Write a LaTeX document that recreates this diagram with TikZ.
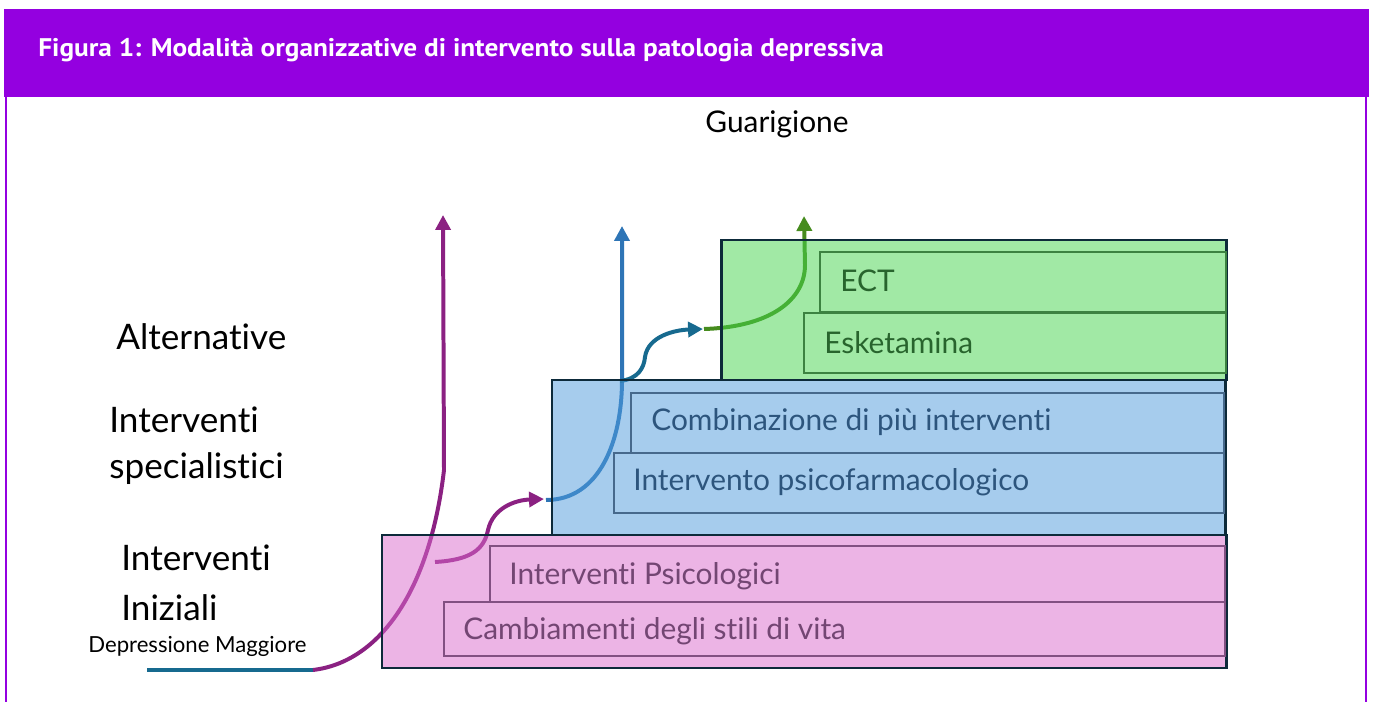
\documentclass[tikz,border=0pt]{standalone}
\usepackage{fontspec}
\setmainfont[Ligatures={NoCommon}]{Lato}
\newfontfamily\titlefont{PT Sans}
\usetikzlibrary{arrows.meta}
\definecolor{hdr}{RGB}{148,0,224}
\definecolor{boxline}{RGB}{13,42,58}
\definecolor{pinkF}{RGB}{219,107,205}
\definecolor{blueF}{RGB}{79,155,221}
\definecolor{greenF}{RGB}{69,213,77}
\definecolor{pinkL}{RGB}{130,80,130}
\definecolor{pinkT}{RGB}{115,70,115}
\definecolor{blueL}{RGB}{70,105,140}
\definecolor{blueT}{RGB}{45,85,125}
\definecolor{greenL}{RGB}{60,130,65}
\definecolor{greenT}{RGB}{40,100,45}
\definecolor{purpA}{RGB}{139,33,130}
\definecolor{tealA}{RGB}{23,106,143}
\definecolor{blueA}{RGB}{46,117,182}
\definecolor{greenA}{RGB}{70,140,30}
\tikzset{
  outerbox/.style={draw=boxline, line width=1.7pt, fill opacity=0.5},
  innerbox/.style={line width=0.6pt},
  boxtext/.style={anchor=west, inner sep=0pt, font=\fontsize{17}{20}\selectfont},
  lefttext/.style={anchor=west, inner sep=0pt, font=\fontsize{20}{24}\selectfont},
  flow/.style={line width=2.27pt},
  tip/.style={-{Triangle[length=8.5pt,width=8.5pt]}}
}
\begin{document}
\begin{tikzpicture}[x=0.02cm,y=-0.02cm]
\useasboundingbox (0,0) rectangle (1373,702);
\fill[white] (0,0) rectangle (1373,702);
% header and frame
\fill[hdr] (4,9) rectangle (1369,97);
\draw[hdr, line width=1.2pt] (6,97) -- (6,702);
\draw[hdr, line width=1.2pt] (1366,97) -- (1366,702);
\node[anchor=west, inner sep=0pt, text=white, font=\titlefont\bfseries\fontsize{14.5}{17}\selectfont] (title) at (38,50) {\scalebox{1.07}[1]{Figura 1: Modalità organizzative di intervento sulla patologia depressiva}};

% coordinates for flows
\coordinate (dm0) at (147,670);
\coordinate (dm1) at (313,670);
\coordinate (p1top) at (443,215);
\coordinate (p2s) at (435,562);
\coordinate (p2e) at (544,499);
\coordinate (b1s) at (546,500);
\coordinate (b1top) at (622,226);
\coordinate (t1s) at (620,381);
\coordinate (t1e) at (703,329);
\coordinate (g1s) at (704,329);
\coordinate (g1top) at (804,216);

% arrows (behind translucent boxes)
\draw[flow, tealA] (dm0) -- (dm1);
\draw[flow, purpA, tip] (dm1) .. controls (380,662) and (430,590) .. (444,470) -- (p1top);
\draw[flow, purpA, tip] (p2s) .. controls (470,560) and (484,550) .. (488,530) .. controls (493,508) and (515,500) .. (p2e);
\draw[flow, blueA, tip] (b1s) .. controls (600,500) and (622,440) .. (622,380) -- (b1top);
\draw[flow, tealA, tip] (t1s) .. controls (638,379) and (644,368) .. (645,357) .. controls (648,336) and (675,330) .. (t1e);
\draw[flow, greenA, tip] (g1s) .. controls (770,327) and (805,300) .. (805,265) -- (g1top);

% pink level
\draw[outerbox, fill=pinkF] (382,535) rectangle (1226,668);
\draw[innerbox, pinkL] (490,546) rectangle (1225,602);
\draw[innerbox, pinkL] (444,602) rectangle (1225,656);
\node[boxtext, text=pinkT] (psi) at (509,576) {Interventi Psicologici};
\node[boxtext, text=pinkT] (cam) at (463,631) {Cambiamenti degli stili di vita};

% blue level
\draw[outerbox, fill=blueF] (552,380) rectangle (1225,535);
\draw[innerbox, blueL] (631,393) rectangle (1224,453);
\draw[innerbox, blueL] (614,453) rectangle (1224,513);
\node[boxtext, text=blueT] (comb) at (651,422) {Combinazione di più interventi};
\node[boxtext, text=blueT] (psif) at (633,482) {Intervento psicofarmacologico};

% green level
\draw[outerbox, fill=greenF] (721,240) rectangle (1226,380);
\draw[innerbox, greenL] (820,252) rectangle (1226,312);
\draw[innerbox, greenL] (804,313) rectangle (1226,373);
\node[boxtext, text=greenT] (ect) at (840,281) {ECT};
\node[boxtext, text=greenT] (esk) at (824,343) {Esketamina};

% labels
\node[anchor=center, inner sep=0pt, font=\fontsize{17}{20}\selectfont] (guar) at (777,124) {Guarigione};
\node[lefttext] (alt) at (116,337) {Alternative};
\node[lefttext] (spec1) at (109,420) {Interventi};
\node[lefttext] (spec2) at (109,469) {specialistici};
\node[lefttext] (ini1) at (121,558) {Interventi};
\node[lefttext] (ini2) at (121,608) {Iniziali};
\node[anchor=west, inner sep=0pt, font=\fontsize{12.6}{15}\selectfont] (dep) at (88,646) {Depressione Maggiore};
\end{tikzpicture}
\end{document}
